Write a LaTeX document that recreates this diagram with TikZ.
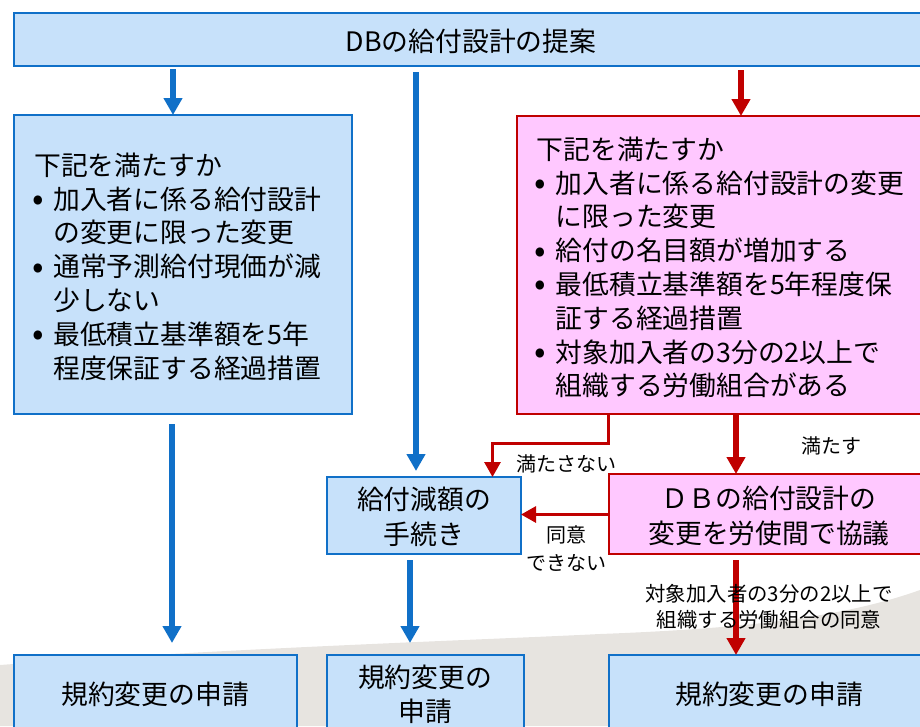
\documentclass[tikz,border=0pt]{standalone}
\usepackage{fontspec}
\setmainfont{Noto Sans CJK JP}
\usetikzlibrary{arrows.meta,calc}
\definecolor{bluefill}{HTML}{C7E1FA}
\definecolor{blueline}{HTML}{1070C8}
\definecolor{pinkfill}{HTML}{FFC8FF}
\definecolor{redline}{HTML}{C00000}
\definecolor{bggray}{HTML}{E7E4E0}
\newcommand{\bulletline}[1]{\makebox[19pt][l]{\hspace{-2pt}\fontsize{34pt}{33.7pt}\selectfont\raisebox{-1.5pt}{•}}#1}
\newcommand{\contline}[1]{\hspace{19pt}#1}
\tikzset{
  x=1pt,y=-1pt,
  box/.style={draw,line width=1.6pt,anchor=north west,inner sep=0pt,outer sep=0pt},
  bluebox/.style={box,draw=blueline,fill=bluefill},
  pinkbox/.style={box,draw=redline,fill=pinkfill},
  boxtext/.style={inner sep=0pt,align=center,font=\fontsize{26.8pt}{35pt}\selectfont},
  listtext/.style={anchor=north west,inner sep=0pt,align=left,font=\fontsize{26.8pt}{33.8pt}\selectfont},
  lab/.style={inner sep=0pt,align=center,font=\fontsize{20pt}{28pt}\selectfont},
  smalllab/.style={inner sep=0pt,align=center,font=\fontsize{20.4pt}{26pt}\selectfont},
  thickblue/.style={draw=blueline,line width=6pt,-{Triangle[length=17pt,width=18pt]}},
  thickred/.style={draw=redline,line width=6pt,-{Triangle[length=17pt,width=18pt]}},
  thinred/.style={draw=redline,line width=3pt,-{Triangle[length=15pt,width=16pt]}},
}
\begin{document}
\begin{tikzpicture}
\useasboundingbox (0,0) rectangle (920,726);
\clip (0,0) rectangle (920,726);
\fill[bggray] (0,665) .. controls (230,648) and (480,640) .. (600,634) .. controls (760,628) and (850,615) .. (920,590) -- (920,726) -- (0,726) -- cycle;

\node[bluebox,minimum width=914pt,minimum height=53pt] (top) at (14,13) {};
\node[bluebox,minimum width=338pt,minimum height=299pt] (left) at (14,115) {};
\node[pinkbox,minimum width=412pt,minimum height=298pt] (pink) at (517,116) {};
\node[bluebox,minimum width=194pt,minimum height=77pt] (reduce) at (327,477) {};
\node[pinkbox,minimum width=320pt,minimum height=80pt] (talk) at (609,474) {};
\node[bluebox,minimum width=283pt,minimum height=90pt] (appa) at (14,655) {};
\node[bluebox,minimum width=197pt,minimum height=90pt] (appb) at (327,655) {};
\node[bluebox,minimum width=320pt,minimum height=90pt] (appc) at (609,655) {};
\node[boxtext] (topt) at (471,41) {DBの給付設計の提案};
\node[boxtext] (reducet) at (424,516.5) {給付減額の\\手続き};
\node[boxtext] (talkt) at (769,516) {ＤＢの給付設計の\\変更を労使間で協議};
\node[boxtext] (appat) at (155,694) {規約変更の申請};
\node[boxtext,font=\fontsize{26.8pt}{33.7pt}\selectfont] (appbt) at (425,694) {規約変更の\\申請};
\node[boxtext] (appct) at (769,694) {規約変更の申請};

\node[listtext] (leftlist) at (34,152.5) {下記を満たすか\\
\bulletline{加入者に係る給付設計}\\
\contline{の変更に限った変更}\\
\bulletline{通常予測給付現価が減}\\
\contline{少しない}\\
\bulletline{最低積立基準額を5年}\\
\contline{程度保証する経過措置}};
\node[listtext] (pinklist) at (536.5,136.5) {下記を満たすか\\
\bulletline{加入者に係る給付設計の変更}\\
\contline{に限った変更}\\
\bulletline{給付の名目額が増加する}\\
\bulletline{最低積立基準額を5年程度保}\\
\contline{証する経過措置}\\
\bulletline{対象加入者の3分の2以上で}\\
\contline{組織する労働組合がある}};

\coordinate (a1s) at (top.south -| 173,0);
\coordinate (a1) at ($(a1s)+(0,3)$);
\draw[thickblue] (a1) -- (a1 |- left.north);
\coordinate (a2) at (416,72);
\draw[thickblue] (a2) -- (416,471);
\coordinate (a3) at (741,70);
\draw[thickred] (a3) -- (a3 |- pink.north);
\coordinate (a4) at (172,424);
\coordinate (a4e) at (172,643);
\draw[thickblue] (a4) -- (a4e);
\coordinate (a5) at (410,560);
\coordinate (a5e) at (410,643);
\draw[thickblue] (a5) -- (a5e);
\coordinate (a6) at (736,414);
\draw[thickred] (a6) -- (a6 |- talk.north);
\coordinate (a7) at (736,560);
\draw[thickred] (a7) -- (a7 |- appc.north);
\coordinate (e1) at (608,414);
\coordinate (e2) at (608,443);
\coordinate (e3) at (492.5,443);
\draw[thinred] (e1) -- (e2) -- (e3) -- (e3 |- reduce.north);
\coordinate (t1) at (609,514.5);
\draw[thinred] (t1) -- (t1 -| reduce.east);

\node[lab] (l1) at (831,446) {満たす};
\node[lab] (l2) at (566,464) {満たさない};
\node[lab] (l3) at (566,549) {同意\\できない};
\node[smalllab] (l4) at (769,606.5) {対象加入者の3分の2以上で\\組織する労働組合の同意};
\end{tikzpicture}
\end{document}
